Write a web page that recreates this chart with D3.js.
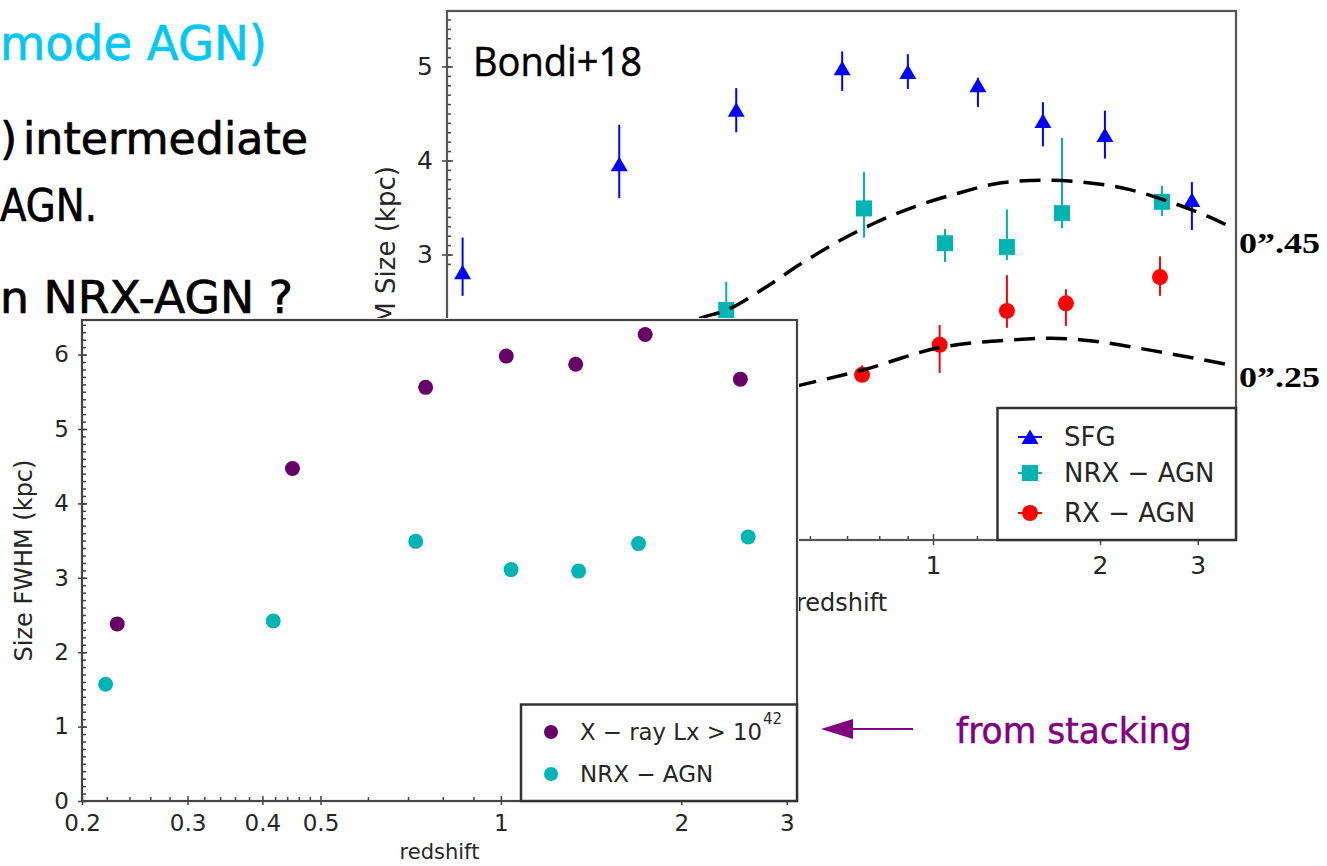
<!DOCTYPE html>
<html>
<head>
<meta charset="utf-8">
<script src="https://cdn.jsdelivr.net/npm/d3@7"></script>
<style>
  body { margin: 0; background: #fff; }
  svg { display: block; }
</style>
</head>
<body>
<svg id="chart" width="1327" height="866"></svg>
<script>
// ---------------- data ----------------
// Bondi+18: star-forming galaxies (redshift, FWHM size in kpc, error range)
const sfgZ    = [0.142, 0.272, 0.442, 0.686, 0.901, 1.205, 1.578, 2.041, 2.928];
const sfgSize = [2.81, 3.96, 4.54, 4.98, 4.94, 4.80, 4.42, 4.27, 3.58];
const sfgLo   = [2.56, 3.60, 4.30, 4.74, 4.76, 4.57, 4.15, 4.02, 3.26];
const sfgHi   = [3.18, 4.38, 4.77, 5.16, 5.13, 4.88, 4.62, 4.53, 3.77];

// Bondi+18: radio-excess-free AGN
const nrxZ    = [0.220, 0.424, 0.751, 1.051, 1.359, 1.708, 2.586];
const nrxSize = [1.58, 2.41, 3.49, 3.12, 3.08, 3.44, 3.56];
const nrxLo   = [1.30, 2.12, 3.18, 2.92, 2.94, 3.28, 3.41];
const nrxHi   = [1.85, 2.71, 3.88, 3.27, 3.48, 4.24, 3.73];

// Bondi+18: radio-excess AGN
const rxZ    = [0.745, 1.028, 1.359, 1.736, 2.565];
const rxSize = [1.72, 2.04, 2.40, 2.48, 2.76];
const rxLo   = [1.66, 1.74, 2.22, 2.24, 2.56];
const rxHi   = [1.82, 2.25, 2.78, 2.63, 2.98];

// physical size of a fixed angular size (0".45 and 0".25) versus redshift
const arc45Z    = [0.30, 0.38, 0.425, 0.496, 0.581, 0.671, 0.789, 0.928, 1.123, 1.320, 1.578, 1.864, 2.264, 2.64, 3.116, 3.50];
const arc45Size = [2.00, 2.32, 2.41, 2.64, 2.91, 3.13, 3.34, 3.51, 3.66, 3.76, 3.79, 3.77, 3.69, 3.57, 3.41, 3.27];
const arc25Z    = [0.30, 0.45, 0.577, 0.746, 1.028, 1.378, 1.636, 1.998, 2.475, 3.389];
const arc25Size = [1.10, 1.45, 1.61, 1.77, 2.01, 2.09, 2.11, 2.07, 1.98, 1.83];

// stacked sizes
const xrayZ    = [0.229, 0.449, 0.749, 1.021, 1.333, 1.741, 2.51];
const xraySize = [2.38, 4.47, 5.56, 5.98, 5.87, 6.27, 5.67];
const stackNrxZ    = [0.219, 0.417, 0.721, 1.040, 1.348, 1.697, 2.586];
const stackNrxSize = [1.57, 2.42, 3.49, 3.11, 3.09, 3.46, 3.55];

// axis ticks
const bgYTicks = [3, 4, 5];
const bgXTicks = [1, 2, 3];
const bgXMinor = [0.6, 0.7, 0.8, 0.9, 1.2, 1.4, 1.6, 1.8, 2.2, 2.4, 2.6, 2.8, 3.2, 3.4];
const fgYTicks = [0, 1, 2, 3, 4, 5, 6];
const fgXTicks = [0.2, 0.3, 0.4, 0.5, 1, 2, 3];
const fgXMinor = [0.22, 0.24, 0.26, 0.28, 0.32, 0.34, 0.36, 0.38, 0.42, 0.44, 0.46, 0.48,
                  0.6, 0.7, 0.8, 0.9, 1.2, 1.4, 1.6, 1.8, 2.2, 2.4, 2.6, 2.8];

// ---------------- drawing ----------------
const W = 1327, H = 866;
const sans = "'DejaVu Sans', sans-serif";
const serif = "'Liberation Serif', 'DejaVu Serif', serif";
const ink = "#262626";
const BLUE = "#0000ff", CYAN = "#00b4b4", RED = "#ff0000", PURPLE = "#660066";

const svg = d3.select("#chart");
svg.append("rect").attr("width", W).attr("height", H).attr("fill", "#fff");

// ---- slide text ----
const slide = svg.append("g").attr("font-family", sans).attr("stroke-width", 0.7);
slide.append("text").attr("x", 0).attr("y", 60).attr("font-size", 48)
  .attr("fill", "#00c8f2").attr("stroke", "#00c8f2")
  .attr("textLength", 267).attr("lengthAdjust", "spacingAndGlyphs")
  .text("mode AGN)");
slide.append("text").attr("x", 0).attr("y", 154).attr("font-size", 44)
  .attr("fill", "#000").attr("stroke", "#000").text(")");
slide.append("text").attr("x", 23).attr("y", 154).attr("font-size", 44)
  .attr("fill", "#000").attr("stroke", "#000")
  .attr("textLength", 285).attr("lengthAdjust", "spacingAndGlyphs").text("intermediate");
slide.append("text").attr("x", 0).attr("y", 221).attr("font-size", 44)
  .attr("fill", "#000").attr("stroke", "#000")
  .attr("textLength", 97).attr("lengthAdjust", "spacingAndGlyphs").text("AGN.");
slide.append("text").attr("x", 0).attr("y", 313).attr("font-size", 44)
  .attr("fill", "#000").attr("stroke", "#000")
  .attr("textLength", 293).attr("lengthAdjust", "spacingAndGlyphs").text("n NRX-AGN ?");

// ---- Bondi+18 panel ----
const bg = svg.append("g");
const xB = d3.scaleLog().domain([0.1331, 3.516]).range([447, 1236]);
const yB = d3.scaleLinear().domain([-0.037, 5.59]).range([540, 11]);

function styleAxis(g, size, color) {
  g.select(".domain").remove();
  g.selectAll(".tick line").attr("stroke", "#444").attr("stroke-width", 1.5);
  g.selectAll(".tick text").attr("font-family", sans).attr("font-size", size).attr("fill", color || ink);
}

// axes (ticks in and out)
bg.append("g").attr("transform", "translate(447,0)")
  .call(d3.axisLeft(yB).tickValues(bgYTicks).tickSize(5).tickPadding(9).tickFormat(d3.format("d")))
  .call(g => styleAxis(g, 25));
bg.append("g").attr("transform", "translate(447,0)")
  .call(d3.axisRight(yB).tickValues(bgYTicks).tickSize(6).tickFormat(""))
  .call(g => styleAxis(g, 25));
bg.append("g").attr("transform", "translate(447,0)")
  .call(d3.axisRight(yB).tickValues(d3.range(29, 56).map(d => d / 10)).tickSize(4).tickFormat(""))
  .call(g => styleAxis(g, 25));
bg.append("g").attr("transform", "translate(0,540)")
  .call(d3.axisBottom(xB).tickValues(bgXTicks).tickSize(5).tickPadding(11).tickFormat(d3.format("d")))
  .call(g => styleAxis(g, 25));
bg.append("g").attr("transform", "translate(0,540)")
  .call(d3.axisTop(xB).tickValues(bgXTicks).tickSize(6).tickFormat(""))
  .call(g => styleAxis(g, 25));
bg.append("g").attr("transform", "translate(0,540)")
  .call(d3.axisTop(xB).tickValues(bgXMinor).tickSize(4).tickFormat(""))
  .call(g => styleAxis(g, 25));

bg.append("rect").attr("x", 447).attr("y", 11).attr("width", 1236 - 447).attr("height", 540 - 11)
  .attr("fill", "none").attr("stroke", "#555").attr("stroke-width", 2.2);

bg.append("text").attr("transform", "translate(395,275.5) rotate(-90)")
  .attr("text-anchor", "middle").attr("font-family", sans).attr("font-size", 26).attr("fill", ink)
  .text("FWHM Size (kpc)");
bg.append("text").attr("x", 841.5).attr("y", 611).attr("text-anchor", "middle")
  .attr("font-family", sans).attr("font-size", 24).attr("fill", ink).text("redshift");

bg.append("text").attr("x", 473).attr("y", 76).attr("font-family", "'Open Sans', sans-serif")
  .attr("font-size", 41).attr("fill", "#000").attr("stroke", "#000").attr("stroke-width", 0.5)
  .attr("textLength", 169).attr("lengthAdjust", "spacingAndGlyphs")
  .text("Bondi+18");

const tri = "M0,-7.5L8.5,7L-8.5,7Z";
const sq = "M-8,-8H8V8H-8Z";

function series(zs, vs, lo, hi, color, shape) {
  const g = bg.append("g");
  const d = d3.range(zs.length).map(i => ({ z: zs[i], v: vs[i], lo: lo[i], hi: hi[i] }));
  g.selectAll("line").data(d).join("line")
    .attr("x1", p => xB(p.z)).attr("x2", p => xB(p.z))
    .attr("y1", p => yB(p.lo)).attr("y2", p => yB(p.hi))
    .attr("stroke", color).attr("stroke-width", 2);
  if (shape === "circle") {
    g.selectAll("circle").data(d).join("circle")
      .attr("cx", p => xB(p.z)).attr("cy", p => yB(p.v)).attr("r", 8).attr("fill", color);
  } else {
    g.selectAll("path").data(d).join("path")
      .attr("transform", p => `translate(${xB(p.z)},${yB(p.v)})`).attr("d", shape).attr("fill", color);
  }
}
series(rxZ, rxSize, rxLo, rxHi, RED, "circle");
series(nrxZ, nrxSize, nrxLo, nrxHi, CYAN, sq);
series(sfgZ, sfgSize, sfgLo, sfgHi, BLUE, tri);

const curve = d3.line().x(d => xB(d[0])).y(d => yB(d[1])).curve(d3.curveMonotoneX);
[[arc45Z, arc45Size], [arc25Z, arc25Size]].forEach(([zs, vs]) => {
  bg.append("path").attr("d", curve(d3.zip(zs, vs)))
    .attr("fill", "none").attr("stroke", "#000").attr("stroke-width", 3.5)
    .attr("stroke-dasharray", "21 11");
});

// legend
const lgB = bg.append("g");
lgB.append("rect").attr("x", 997.5).attr("y", 408).attr("width", 1236 - 997.5).attr("height", 540 - 408)
  .attr("fill", "#fff").attr("stroke", "#333").attr("stroke-width", 2.5);
const bgLegend = [
  { label: "SFG", color: BLUE, shape: tri, y: 437 },
  { label: "NRX − AGN", color: CYAN, shape: sq, y: 473 },
  { label: "RX − AGN", color: RED, shape: "circle", y: 513 }
];
bgLegend.forEach(e => {
  lgB.append("line").attr("x1", 1018).attr("x2", 1042).attr("y1", e.y).attr("y2", e.y)
    .attr("stroke", e.color).attr("stroke-width", 2);
  if (e.shape === "circle") lgB.append("circle").attr("cx", 1030).attr("cy", e.y).attr("r", 8).attr("fill", e.color);
  else lgB.append("path").attr("transform", `translate(1030,${e.y})`).attr("d", e.shape).attr("fill", e.color);
  lgB.append("text").attr("x", 1064).attr("y", e.y).attr("dy", "0.36em")
    .attr("font-family", sans).attr("font-size", 26).attr("fill", ink).text(e.label);
});

// angular-size labels
svg.append("text").attr("x", 1239).attr("y", 253).attr("font-family", serif).attr("font-weight", "bold")
  .attr("font-size", 30).attr("fill", "#000").attr("textLength", 81).attr("lengthAdjust", "spacingAndGlyphs")
  .text("0”.45");
svg.append("text").attr("x", 1239).attr("y", 387).attr("font-family", serif).attr("font-weight", "bold")
  .attr("font-size", 30).attr("fill", "#000").attr("textLength", 81).attr("lengthAdjust", "spacingAndGlyphs")
  .text("0”.25");

// ---- stacked-size panel (drawn on top) ----
const fg = svg.append("g");
fg.append("rect").attr("x", 0).attr("y", 318).attr("width", 799).attr("height", H - 318).attr("fill", "#fff");

const xF = d3.scaleLog().domain([0.2, 3.12]).range([82, 797]);
const yF = d3.scaleLinear().domain([0, 6.465]).range([801, 320]);

fg.append("g").attr("transform", "translate(82,0)")
  .call(d3.axisLeft(yF).tickValues(fgYTicks).tickSize(4).tickPadding(9).tickFormat(d3.format("d")))
  .call(g => styleAxis(g, 23));
fg.append("g").attr("transform", "translate(82,0)")
  .call(d3.axisRight(yF).tickValues(fgYTicks).tickSize(5).tickFormat(""))
  .call(g => styleAxis(g, 23));
fg.append("g").attr("transform", "translate(82,0)")
  .call(d3.axisRight(yF).tickValues(d3.range(1, 65).map(d => d / 10)).tickSize(4).tickFormat(""))
  .call(g => styleAxis(g, 23));
fg.append("g").attr("transform", "translate(0,801)")
  .call(d3.axisBottom(xF).tickValues(fgXTicks).tickSize(4).tickPadding(10).tickFormat(d3.format("~g")))
  .call(g => styleAxis(g, 23));
fg.append("g").attr("transform", "translate(0,801)")
  .call(d3.axisTop(xF).tickValues(fgXTicks).tickSize(5).tickFormat(""))
  .call(g => styleAxis(g, 23));
fg.append("g").attr("transform", "translate(0,801)")
  .call(d3.axisTop(xF).tickValues(fgXMinor).tickSize(4).tickFormat(""))
  .call(g => styleAxis(g, 23));

fg.append("rect").attr("x", 82).attr("y", 320).attr("width", 797 - 82).attr("height", 801 - 320)
  .attr("fill", "none").attr("stroke", "#444").attr("stroke-width", 2.2);

fg.append("text").attr("transform", "translate(32,560.5) rotate(-90)")
  .attr("text-anchor", "middle").attr("font-family", sans).attr("font-size", 24).attr("fill", ink)
  .text("Size FWHM (kpc)");
fg.append("text").attr("x", 439.5).attr("y", 859).attr("text-anchor", "middle")
  .attr("font-family", sans).attr("font-size", 21).attr("fill", ink).text("redshift");

fg.append("g").selectAll("circle").data(d3.zip(xrayZ, xraySize)).join("circle")
  .attr("cx", d => xF(d[0])).attr("cy", d => yF(d[1])).attr("r", 7.5).attr("fill", PURPLE);
fg.append("g").selectAll("circle").data(d3.zip(stackNrxZ, stackNrxSize)).join("circle")
  .attr("cx", d => xF(d[0])).attr("cy", d => yF(d[1])).attr("r", 7.5).attr("fill", CYAN);

// legend
const lgF = fg.append("g");
lgF.append("rect").attr("x", 521).attr("y", 704.5).attr("width", 797 - 521).attr("height", 801 - 704.5)
  .attr("fill", "#fff").attr("stroke", "#333").attr("stroke-width", 2.5);
lgF.append("circle").attr("cx", 551).attr("cy", 732).attr("r", 7).attr("fill", PURPLE);
lgF.append("circle").attr("cx", 551).attr("cy", 774).attr("r", 7).attr("fill", CYAN);
lgF.append("text").attr("x", 580).attr("y", 732).attr("dy", "0.36em").attr("font-family", sans)
  .attr("font-size", 23).attr("fill", ink).attr("textLength", 182).attr("lengthAdjust", "spacingAndGlyphs")
  .text("X − ray Lx > 10");
lgF.append("text").attr("x", 763).attr("y", 724).attr("font-family", sans)
  .attr("font-size", 15).attr("fill", ink).text("42");
lgF.append("text").attr("x", 580).attr("y", 774).attr("dy", "0.36em").attr("font-family", sans)
  .attr("font-size", 23).attr("fill", ink).text("NRX − AGN");

// ---- annotation ----
const ann = svg.append("g");
ann.append("line").attr("x1", 913).attr("x2", 850).attr("y1", 729).attr("y2", 729)
  .attr("stroke", "#800080").attr("stroke-width", 2);
ann.append("path").attr("d", "M821,729L853,719L853,739Z").attr("fill", "#800080");
ann.append("text").attr("x", 956).attr("y", 743).attr("font-family", sans).attr("font-size", 36)
  .attr("fill", "#800080").attr("stroke", "#800080").attr("stroke-width", 0.5)
  .attr("textLength", 236).attr("lengthAdjust", "spacingAndGlyphs")
  .text("from stacking");
</script>
</body>
</html>
